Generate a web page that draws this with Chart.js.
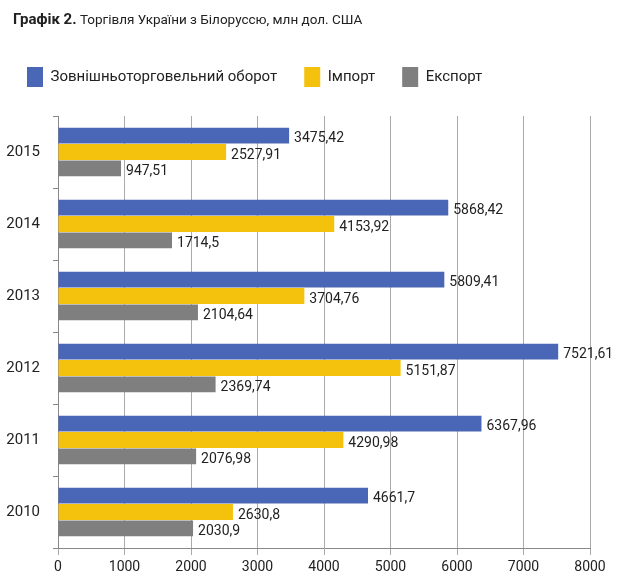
<!DOCTYPE html>
<html><head><meta charset="utf-8">
<script src="https://cdn.jsdelivr.net/npm/chart.js@4"></script>
<style>html,body{margin:0;padding:0;background:#fff}#wrap{width:618px;height:581px}</style>
</head><body><div id="wrap"><canvas id="c" width="618" height="581"></canvas></div>
<script>
const titleBold = "Графік 2.";
const titleRest = " Торгівля України з Білоруссю, млн дол. США";
const years = ["2015","2014","2013","2012","2011","2010"];
const seriesNames = ["Зовнішньоторговельний оборот","Імпорт","Експорт"];
const turnover = [3475.42, 5868.42, 5809.41, 7521.61, 6367.96, 4661.7];
const imports = [2527.91, 4153.92, 3704.76, 5151.87, 4290.98, 2630.8];
const exports = [947.51, 1714.5, 2104.64, 2369.74, 2076.98, 2030.9];
const xTicks = [0,1000,2000,3000,4000,5000,6000,7000,8000];

const FONT = "Roboto, 'Open Sans', sans-serif";
const fmt = v => String(v).replace('.', ',');

const titlePlugin = {
  id: 'mixedTitle',
  beforeInit(chart) {
    const lg = chart.legend;
    if (lg) {
      const orig = lg.fit;
      lg.fit = function() { orig.call(this); this.height = 76; };
    }
  },
  afterDraw(chart) {
    const ctx = chart.ctx;
    ctx.save();
    ctx.textBaseline = 'middle';
    ctx.fillStyle = '#222';
    ctx.font = "bold 15px " + FONT;
    ctx.fillText(titleBold, 13, 20);
    const w = ctx.measureText(titleBold).width;
    ctx.font = "13.5px " + FONT;
    ctx.fillText(titleRest, 13 + w, 21);
    ctx.restore();
  }
};

const labelPlugin = {
  id: 'valueLabels',
  afterDatasetsDraw(chart) {
    const ctx = chart.ctx;
    ctx.save();
    ctx.font = "14px " + FONT;
    ctx.fillStyle = '#222';
    ctx.textBaseline = 'middle';
    ctx.textAlign = 'left';
    chart.data.datasets.forEach((ds, i) => {
      chart.getDatasetMeta(i).data.forEach((bar, j) => {
        ctx.fillText(fmt(ds.data[j]), bar.x + 5, bar.y + 3);
      });
    });
    ctx.restore();
  }
};

new Chart(document.getElementById('c'), {
  type: 'bar',
  data: {
    labels: years,
    datasets: [
      {label: seriesNames[0], data: turnover, backgroundColor: '#4a66b6'},
      {label: seriesNames[1], data: imports, backgroundColor: '#f4c20d'},
      {label: seriesNames[2], data: exports, backgroundColor: '#7f7f7f'}
    ]
  },
  options: {
    indexAxis: 'y',
    responsive: false,
    animation: false,
    layout: {padding: {top: 40, right: 28, left: 0, bottom: 0}},
    datasets: {bar: {categoryPercentage: 0.68, barPercentage: 0.97}},
    plugins: {
      tooltip: {enabled: false},
      legend: {
        position: 'top', align: 'start',
        labels: {boxWidth: 16, boxHeight: 20, padding: 27, color: '#222',
          font: {family: FONT, size: 15}}
      }
    },
    scales: {
      x: {
        min: 0, max: 8000,
        afterBuildTicks: s => { s.ticks = xTicks.map(v => ({value: v})); },
        afterFit: s => { s.height = 33; },
        border: {color: '#888', width: 1},
        grid: {color: '#aaa', lineWidth: 1, tickLength: 7},
        ticks: {color: '#222', font: {family: FONT, size: 14}, padding: 4, maxRotation: 0,
          callback: v => String(v)}
      },
      y: {
        afterFit: s => { s.width = 58; },
        border: {color: '#888', width: 1},
        grid: {offset: true, drawOnChartArea: false, tickLength: 5, color: '#888'},
        ticks: {color: '#222', font: {family: FONT, size: 15}, padding: 13}
      }
    }
  },
  plugins: [titlePlugin, labelPlugin]
});
</script></body></html>
